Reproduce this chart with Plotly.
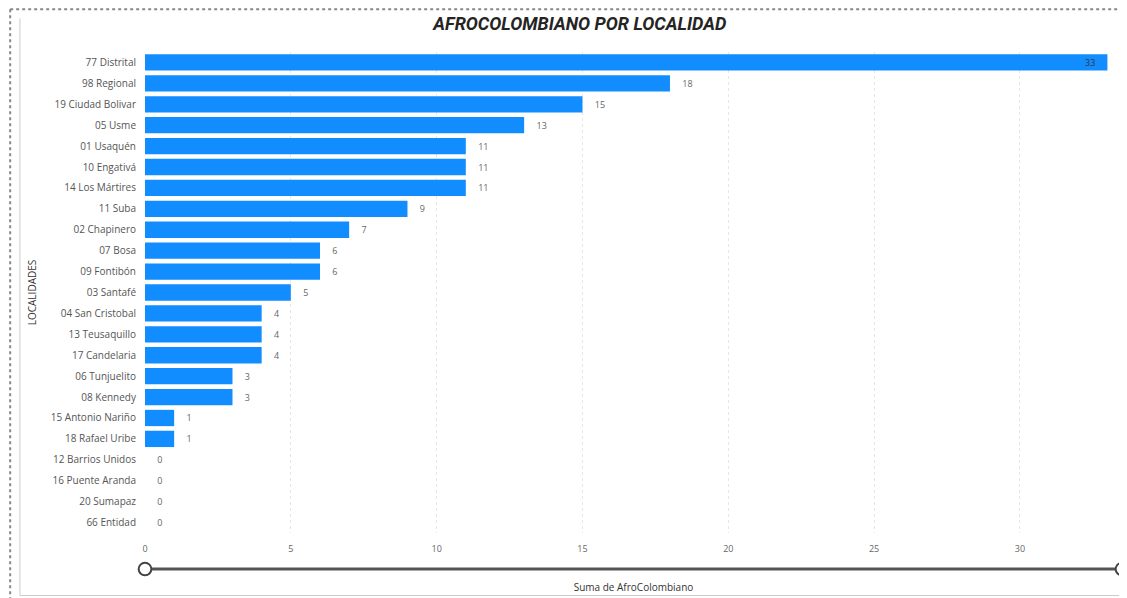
import plotly.graph_objects as go

localidades = [
    "77 Distrital", "98 Regional", "19 Ciudad Bolivar", "05 Usme", "01 Usaquén",
    "10 Engativá", "14 Los Mártires", "11 Suba", "02 Chapinero", "07 Bosa",
    "09 Fontibón", "03 Santafé", "04 San Cristobal", "13 Teusaquillo", "17 Candelaria",
    "06 Tunjuelito", "08 Kennedy", "15 Antonio Nariño", "18 Rafael Uribe",
    "12 Barrios Unidos", "16 Puente Aranda", "20 Sumapaz", "66 Entidad",
]
afro = [33, 18, 15, 13, 11, 11, 11, 9, 7, 6, 6, 5, 4, 4, 4, 3, 3, 1, 1, 0, 0, 0, 0]
x_ticks = [0, 5, 10, 15, 20, 25, 30]
x_max = 33.5

# labels sit outside with a small gap; the longest bar gets its label inside (annotation below)
nb = "\u00a0"
top = max(afro)
labels = ["" if v == top else nb * 4 + str(v) for v in afro]

fig = go.Figure(go.Bar(
    x=afro,
    y=localidades,
    orientation="h",
    marker_color="#118DFF",
    marker_line_width=0,
    text=labels,
    textposition="outside",
    textangle=0,
    textfont=dict(size=9, color="#666666"),
    cliponaxis=False,
))

for v, loc in zip(afro, localidades):
    if v == top:
        fig.add_annotation(x=v, y=loc, text=str(v), showarrow=False,
                           xanchor="right", xshift=-10,
                           font=dict(size=9, color="#333333"))

# page body has an 8px margin, so the figure is a bit smaller than the window
fig.update_layout(
    width=1119,
    height=590,
    paper_bgcolor="white",
    plot_bgcolor="white",
    margin=dict(l=137, r=5, t=44, b=65, autoexpand=False),
    bargap=0.22,
    showlegend=False,
    font=dict(family="Open Sans, DejaVu Sans", size=10, color="#555555"),
    title=dict(
        text="<b><i>AFROCOLOMBIANO POR LOCALIDAD</i></b>",
        x=0.511, xanchor="center", y=0.973, yanchor="middle",
        font=dict(family="Roboto", size=18, color="#252423"),
        automargin=False,
    ),
)

fig.update_xaxes(
    range=[0, x_max],
    tickvals=x_ticks,
    ticks="",
    ticklabelstandoff=9,
    showline=False,
    zeroline=False,
    showgrid=True,
    gridcolor="#e6e6e6",
    griddash="dot",
    automargin=False,
    tickfont=dict(size=9, color="#666666"),
    title=dict(text="Suma de AfroColombiano", font=dict(size=10, color="#333333"), standoff=29),
)
fig.update_yaxes(
    categoryorder="array",
    categoryarray=localidades[::-1],
    ticks="",
    ticklabelstandoff=8,
    showline=False,
    showgrid=False,
    automargin=False,
    tickfont=dict(size=10, color="#555555"),
    title=dict(text="LOCALIDADES", font=dict(size=10, color="#333333"), standoff=12),
)

# range slider look-alike under the axis
fig.add_shape(type="line", xref="x", yref="paper", x0=0, x1=x_max, y0=-0.075, y1=-0.075,
              line=dict(color="#555555", width=3))
for xp in [0.0, 1.0]:
    fig.add_shape(type="circle", xref="paper", yref="paper",
                  x0=xp - 0.0065, x1=xp + 0.0065, y0=-0.088, y1=-0.062,
                  line=dict(color="#444444", width=2), fillcolor="white")

# dotted visual border and corner marks
fig.add_shape(type="line", xref="paper", yref="paper", x0=-0.138, x1=1.01, y0=1.089, y1=1.089,
              line=dict(color="#888888", width=2, dash="dot"))
fig.add_shape(type="line", xref="paper", yref="paper", x0=-0.138, x1=-0.138, y0=1.089, y1=-0.14,
              line=dict(color="#888888", width=2, dash="dot"))
fig.add_shape(type="line", xref="paper", yref="paper", x0=-0.128, x1=-0.128, y0=1.07, y1=-0.13,
              line=dict(color="#cccccc", width=1))
fig.add_shape(type="line", xref="paper", yref="paper", x0=-0.128, x1=1.01, y0=-0.13, y1=-0.13,
              line=dict(color="#cccccc", width=1))

fig.write_html("out.html")
